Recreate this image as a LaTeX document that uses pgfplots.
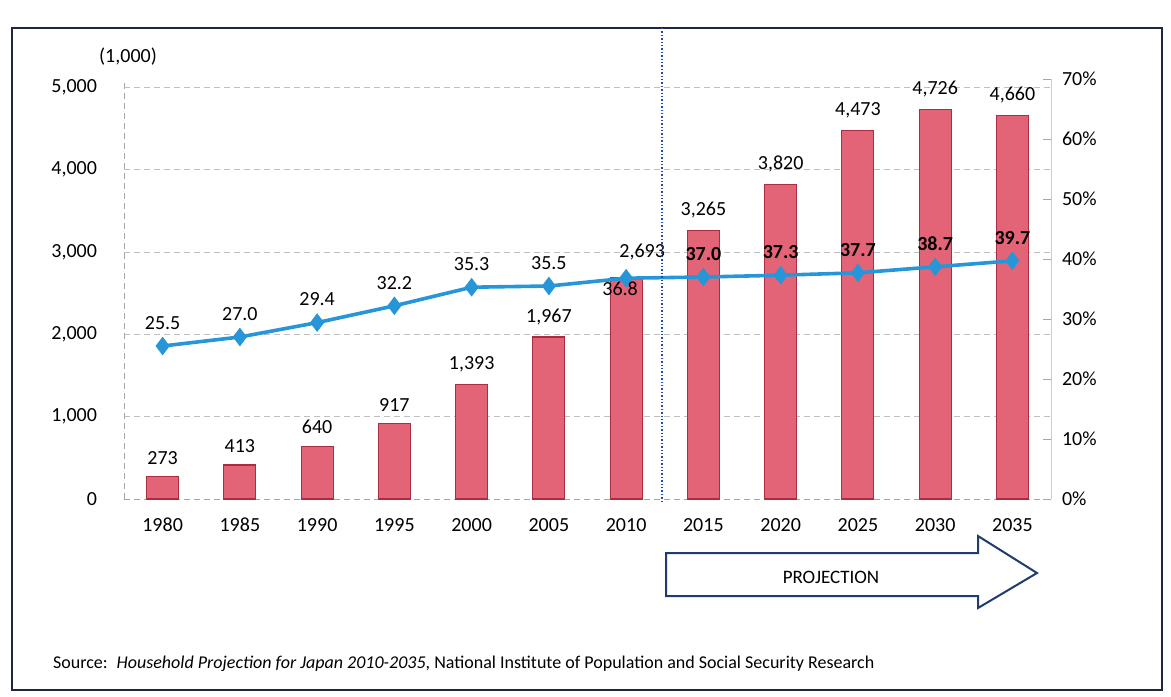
\documentclass[border=0pt]{standalone}
\usepackage{pgfplots}
\pgfplotsset{compat=1.18}
\usepackage{pgfplotstable}
\usepackage{fontspec}
\setmainfont{Carlito}
\definecolor{barred}{RGB}{226,100,118}
\definecolor{baredge}{RGB}{170,45,65}
\definecolor{lineblue}{RGB}{38,150,216}
\definecolor{framec}{RGB}{28,40,66}
\definecolor{arrowc}{RGB}{30,60,110}
\definecolor{divider}{RGB}{30,80,160}

% year, households (1,000), share (%)
\pgfplotstableread{
x year hh share
0 1980 273 25.5
1 1985 413 27.0
2 1990 640 29.4
3 1995 917 32.2
4 2000 1393 35.3
5 2005 1967 35.5
6 2010 2693 36.8
7 2015 3265 37.0
8 2020 3820 37.3
9 2025 4473 37.7
10 2030 4726 38.7
11 2035 4660 39.7
}\households

\pgfplotsset{
  /pgf/number format/assume math mode=true,
  every axis/.append style={font=\fontsize{10}{12}\selectfont},
}

\begin{document}
\begin{tikzpicture}
\begin{scope}[x=0.5pt,y=-0.5pt]
  \useasboundingbox (0,0) rectangle (1171,696);
  \draw[framec, line width=1.4pt] (12,28) rectangle (1162,690);
\end{scope}

% households, left axis
\begin{axis}[
    at={(62pt,-249.5pt)}, anchor=south west,
    scale only axis, width=463.5pt, height=210pt,
    xmin=-0.5, xmax=11.5, ymin=0, ymax=5100,
    ytick={0,1000,2000,3000,4000,5000},
    axis y line*=left, axis x line*=bottom,
    axis line style={black!35, densely dashed},
    xtick=data,
    xticklabels={1980,1985,1990,1995,2000,2005,2010,2015,2020,2025,2030,2035},
    major tick length=0pt,
    x tick label style={yshift=-6pt},
    y tick label style={xshift=-10pt},
    /pgf/number format/1000 sep={,},
    ymajorgrids, grid style={black!25, densely dashed},
    ybar, bar width=16pt,
    nodes near coords,
    visualization depends on={\thisrow{x} \as \curx},
    every node near coord/.append style={black,
      yshift={((\curx==6)?5:2.5)*1pt}, xshift={((\curx==6)?8:0)*1pt}},
    clip=false,
  ]
  \addplot[fill=barred, draw=baredge, line width=0.6pt] table[x=x, y=hh] {\households};
\end{axis}

% share, right axis
\begin{axis}[
    at={(62pt,-249.5pt)}, anchor=south west,
    scale only axis, width=463.5pt, height=210pt,
    xmin=-0.5, xmax=11.5, ymin=0, ymax=70,
    ytick={0,10,...,70},
    yticklabel={\pgfmathprintnumber{\tick}\%},
    axis y line*=right, axis x line=none,
    axis line style={black!20},
    ytick style={black!35}, major tick length=4pt,
    y tick label style={xshift=2pt},
    visualization depends on={\thisrow{x} \as \curx},
    nodes near coords={\ifdim\curx pt>6.5pt\bfseries\fi
      \pgfmathprintnumber[fixed,fixed zerofill,precision=1]{\pgfplotspointmeta}},
    every node near coord/.append style={black,
      yshift={((\curx==6)?-13:4)*1pt}, xshift={((\curx==6)?-3:0)*1pt}},
    clip=false,
  ]
  \addplot[lineblue, line width=1.8pt, mark=diamond*, mark size=3.2pt,
    mark options={fill=lineblue, draw=lineblue}] table[x=x, y=share] {\households};
\end{axis}

\begin{scope}[x=0.5pt,y=-0.5pt]
  \node[font=\fontsize{10}{12}\selectfont] at (128,57) {(1,000)};
  \draw[divider, densely dotted, line width=0.7pt] (662,28) -- (662,502);
  \draw[arrowc, line width=1pt, fill=white]
    (666,553) -- (978,553) -- (978,536) -- (1037,573) -- (978,608)
    -- (978,596) -- (666,596) -- cycle;
  \node[font=\fontsize{9.5}{11}\selectfont] at (831,577) {PROJECTION};
  \node[anchor=west, font=\fontsize{9}{11}\selectfont] at (46,664)
    {Source:\enspace\textit{Household Projection for Japan 2010-2035}, National Institute of Population and Social Security Research};
\end{scope}
\end{tikzpicture}
\end{document}
